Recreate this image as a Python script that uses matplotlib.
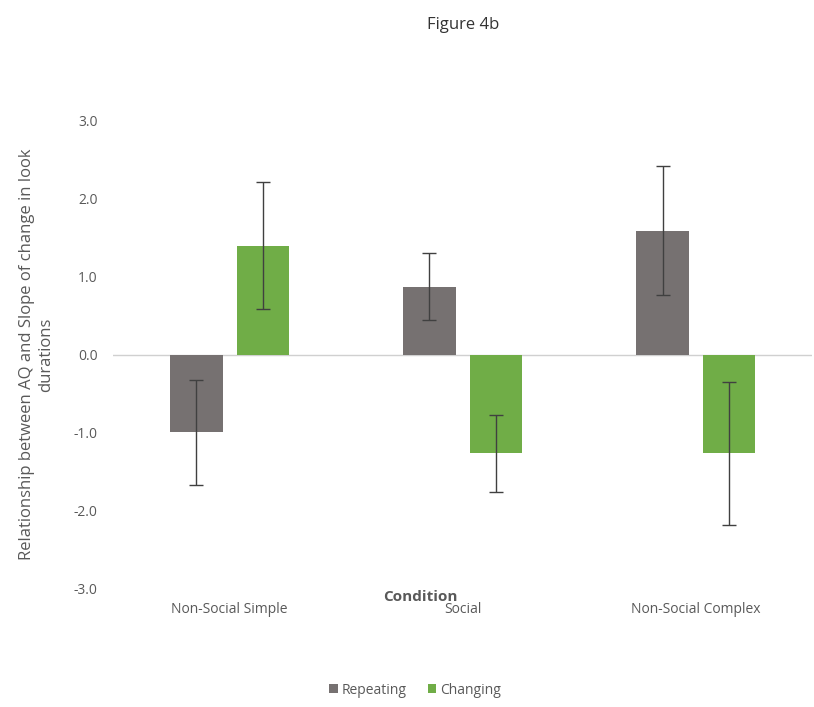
import numpy as np
import matplotlib.pyplot as plt

plt.rcParams['font.family'] = ['Open Sans', 'DejaVu Sans']

conditions = ['Non-Social Simple', 'Social', 'Non-Social Complex']
repeating = [-1.00, 0.87, 1.59]
repeating_err = [0.67, 0.43, 0.83]
changing = [1.40, -1.27, -1.27]
changing_err = [0.81, 0.49, 0.92]

grey = '#767171'
green = '#70AD47'
text_col = '#595959'

fig = plt.figure(figsize=(8.14, 7.07), dpi=100)
ax = fig.add_axes([0.139, 0.168, 0.859, 0.661])

x = np.arange(len(conditions))
w = 0.225
off = 0.143
ax.bar(x - off, repeating, w, color=grey, label='Repeating',
       yerr=repeating_err, capsize=5,
       error_kw=dict(ecolor='#404040', elinewidth=1, capthick=1))
ax.bar(x + off, changing, w, color=green, label='Changing',
       yerr=changing_err, capsize=5,
       error_kw=dict(ecolor='#404040', elinewidth=1, capthick=1))

ax.axhline(0, color='#d0d0d0', lw=1, zorder=0)
ax.set_xlim(-0.5, 2.5)
ax.set_ylim(-3, 3)
ax.set_yticks(np.arange(-3, 3.1, 1))
ax.set_yticklabels([f'{v:.1f}' for v in np.arange(-3, 3.1, 1)])
ax.set_xticks(x)
ax.set_xticklabels(conditions)
for s in ax.spines.values():
    s.set_visible(False)
ax.tick_params(length=0, colors=text_col, labelsize=10)
ax.tick_params(axis='y', pad=11)
ax.tick_params(axis='x', pad=10)

ax.set_ylabel('Relationship between AQ and Slope of change in look\ndurations',
              color=text_col, fontsize=12, labelpad=14, linespacing=1.3)
fig.text(0.516, 0.155, 'Condition', ha='center', va='center',
         fontsize=11, fontweight='bold', color=text_col)
fig.text(0.569, 0.965, 'Figure 4b', ha='center', va='center',
         fontsize=12, color='#333333')

fig.legend(loc='center', bbox_to_anchor=(0.51, 0.024), ncol=2, frameon=False,
           handlelength=0.6, handleheight=0.6, handletextpad=0.3,
           columnspacing=1.5, fontsize=10, labelcolor=text_col)

fig.savefig('out.png', dpi=100)
